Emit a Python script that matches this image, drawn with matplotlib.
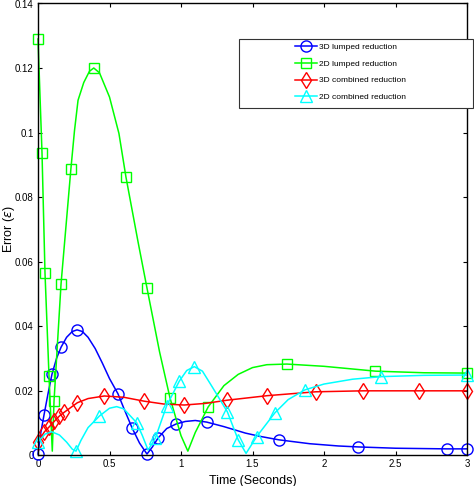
import numpy as np
import matplotlib
matplotlib.use("Agg")
import matplotlib.pyplot as plt
from matplotlib.patches import Rectangle
from matplotlib.ticker import FormatStrFormatter

plt.rcParams['font.family'] = ['Liberation Sans', 'DejaVu Sans']

# ---- data ----
t_3d_lump = [0.0, 0.02, 0.042, 0.07, 0.098, 0.13, 0.161, 0.2, 0.24, 0.273, 0.31, 0.35,
             0.4, 0.45, 0.5, 0.559, 0.6, 0.658, 0.71, 0.762, 0.8, 0.84, 0.9, 0.965,
             1.03, 1.1, 1.18, 1.3, 1.45, 1.55, 1.685, 1.9, 2.1, 2.24, 2.5, 2.86, 3.0]
e_3d_lump = [0.0003, 0.007, 0.0124, 0.019, 0.0251, 0.030, 0.0334, 0.0365, 0.0383, 0.0388,
             0.0383, 0.0365, 0.033, 0.0285, 0.0237, 0.019, 0.0145, 0.0084, 0.0037, 0.0003,
             0.0025, 0.0053, 0.0082, 0.0096, 0.0104, 0.0107, 0.0102, 0.0088, 0.0068,
             0.0058, 0.0047, 0.0035, 0.0028, 0.0025, 0.0021, 0.0019, 0.0019]
m_3d_lump = [0, 2, 4, 6, 9, 15, 17, 19, 21, 23, 26, 30, 33, 35, 36]

t_2d_lump = [0.0, 0.028, 0.049, 0.077, 0.1, 0.112, 0.161, 0.23, 0.255, 0.28, 0.32, 0.36,
             0.39, 0.43, 0.5, 0.566, 0.615, 0.7, 0.762, 0.85, 0.923, 1.0, 1.048, 1.1,
             1.19, 1.3, 1.4, 1.5, 1.6, 1.74, 2.0, 2.36, 2.7, 3.0]
e_2d_lump = [0.129, 0.0937, 0.0564, 0.0245, 0.0012, 0.0167, 0.053, 0.0887, 0.1005, 0.110,
             0.1155, 0.119, 0.120, 0.1185, 0.111, 0.0997, 0.0862, 0.066, 0.0518, 0.032,
             0.0177, 0.006, 0.0012, 0.007, 0.0149, 0.0215, 0.025, 0.0271, 0.028, 0.0282,
             0.0275, 0.026, 0.0255, 0.0254]
m_2d_lump = [0, 1, 2, 3, 5, 6, 7, 12, 16, 18, 20, 24, 29, 31, 33]

t_3d_comb = [0.0, 0.045, 0.08, 0.115, 0.15, 0.185, 0.275, 0.35, 0.464, 0.6, 0.741, 0.88,
             1.023, 1.17, 1.324, 1.604, 1.942, 2.275, 2.667, 3.0]
e_3d_comb = [0.0040, 0.0072, 0.0088, 0.0105, 0.0121, 0.0133, 0.0162, 0.0175, 0.0183,
             0.0179, 0.0167, 0.0158, 0.0155, 0.016, 0.017, 0.0184, 0.0196, 0.0199,
             0.0199, 0.0199]
m_3d_comb = [0, 1, 2, 3, 4, 5, 6, 8, 10, 12, 14, 15, 16, 17, 18, 19]

t_2d_comb = [0.0, 0.05, 0.096, 0.15, 0.2, 0.24, 0.266, 0.3, 0.35, 0.43, 0.5, 0.55, 0.6,
             0.69, 0.73, 0.77, 0.82, 0.9, 0.988, 1.04, 1.093, 1.15, 1.22, 1.324, 1.4,
             1.455, 1.529, 1.657, 1.75, 1.867, 2.0, 2.2, 2.4, 2.7, 3.0]
e_2d_comb = [0.0041, 0.0065, 0.0072, 0.0062, 0.004, 0.0018, 0.0012, 0.0045, 0.0085,
             0.0121, 0.0145, 0.015, 0.0143, 0.0100, 0.006, 0.0015, 0.0052, 0.0153,
             0.0229, 0.0262, 0.0274, 0.026, 0.021, 0.0134, 0.0047, 0.0005, 0.0057,
             0.0131, 0.0172, 0.0202, 0.022, 0.0235, 0.0243, 0.0247, 0.0248]
m_2d_comb = [0, 6, 9, 13, 16, 17, 18, 20, 23, 24, 26, 27, 29, 32, 34]

labels = ['3D lumped reduction', '2D lumped reduction',
          '3D combined reduction', '2D combined reduction']

# ---- plot ----
fig = plt.figure(figsize=(4.74, 4.86), dpi=100)
ax = fig.add_axes([38/474, 31/486, 429/474, 451.5/486])

ax.plot(t_3d_lump, e_3d_lump, '-o', color='#0000ff', lw=1.1, ms=8, mfc='none',
        mew=1.0, markevery=m_3d_lump, label=labels[0], clip_on=False)
ax.plot(t_2d_lump, e_2d_lump, '-s', color='#00ff00', lw=1.1, ms=6.5, mfc='none',
        mew=1.0, markevery=m_2d_lump, label=labels[1], clip_on=False)
ax.plot(t_3d_comb, e_3d_comb, '-d', color='#ff0000', lw=1.1, ms=8.5, mfc='none',
        mew=1.0, markevery=m_3d_comb, label=labels[2], clip_on=False)
ax.plot(t_2d_comb, e_2d_comb, '-^', color='#00ffff', lw=1.1, ms=8, mfc='none',
        mew=1.0, markevery=m_2d_comb, label=labels[3], clip_on=False)

ax.set_xlim(0, 3)
ax.set_ylim(0, 0.14)
ax.set_xticks(np.arange(0, 3.01, 0.5))
ax.set_yticks(np.arange(0, 0.141, 0.02))
ax.xaxis.set_major_formatter(FormatStrFormatter('%g'))
ax.yaxis.set_major_formatter(FormatStrFormatter('%g'))
ax.tick_params(direction='in', top=True, right=True, length=3, width=0.8,
               labelsize=7, pad=3)
for s in ax.spines.values():
    s.set_linewidth(1.0)

ax.set_xlabel('Time (Seconds)', fontsize=9, labelpad=4)
ax.set_ylabel(r'Error ($\epsilon$)', fontsize=9)
ax.yaxis.set_label_coords(-0.05, 0.5)

# legend: frame drawn separately, like the wide MATLAB box
ax.add_patch(Rectangle((201/429, 0.769), 234/429, 0.1517, transform=ax.transAxes,
                       fill=True, facecolor='white', edgecolor='#333333', lw=0.8,
                       clip_on=False, zorder=4))
leg = ax.legend(loc='center left', bbox_to_anchor=(257/429, 0.8478), frameon=False,
                fontsize=6, handlelength=2.6, handletextpad=0.3, labelspacing=1.05,
                borderpad=0, borderaxespad=0, numpoints=1)
leg.set_zorder(5)

fig.savefig('out.png', dpi=100)
